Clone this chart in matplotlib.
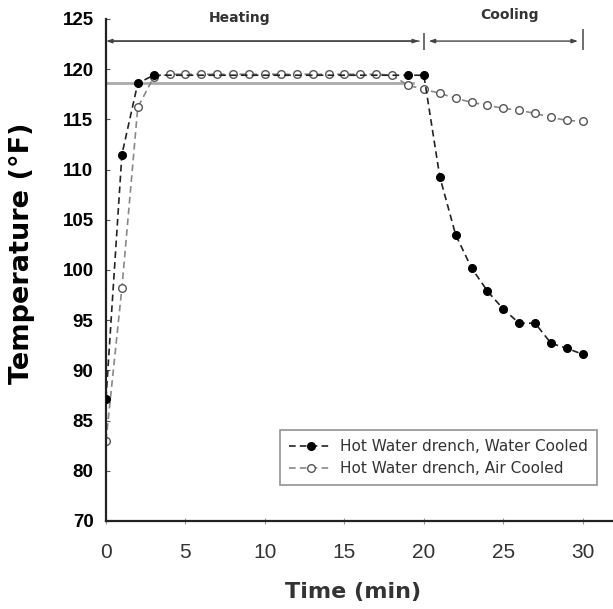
import matplotlib
matplotlib.use("Agg")
import matplotlib.pyplot as plt

# data (time in min, temperature in F)
water_t = [0, 1, 2, 3, 19, 20, 21, 22, 23, 24, 25, 26, 27, 28, 29, 30]
water_temp = [87.2, 111.5, 118.6, 119.4, 119.4, 119.4, 109.3, 103.5, 100.2,
              97.9, 96.1, 94.7, 94.7, 92.7, 92.2, 91.6]

air_t = list(range(0, 31))
air_temp = [83.0, 98.2, 116.2, 119.2, 119.5, 119.5, 119.5, 119.5, 119.5,
            119.5, 119.5, 119.5, 119.5, 119.5, 119.5, 119.5, 119.5, 119.5,
            119.4, 118.4, 118.0, 117.6, 117.1, 116.7, 116.4, 116.1, 115.9,
            115.6, 115.2, 114.9, 114.8]

# faint grey reference line under the heating plateau
ref_t = [0, 19.3]
ref_temp = [118.6, 118.6]

xticks = [0, 5, 10, 15, 20, 25, 30]
yticks = [75, 80, 85, 90, 95, 100, 105, 110, 115, 120, 125]
ytick_labels = ["70", "80", "85", "90", "95", "100", "105", "110", "115", "120", "125"]

phase_edges = [0, 20, 30]
phase_names = ["Heating", "Cooling"]

fig = plt.figure(figsize=(6.13, 6.09), dpi=100)
ax = fig.add_axes([106 / 613, 1 - 521 / 609, 1 - 106 / 613, (521 - 19) / 609])

ax.plot(ref_t, ref_temp, color="#aaaaaa", lw=2, zorder=1)
ax.plot(air_t, air_temp, color="#888888", lw=1.2, ls=(0, (4, 2.5)),
        marker="o", ms=5.5, mfc="white", mec="#555555", mew=1.0, zorder=2,
        label="Hot Water drench, Air Cooled")
ax.plot(water_t, water_temp, color="#222222", lw=1.2, ls=(0, (4, 2.5)),
        marker="o", ms=5.5, mfc="black", mec="black", zorder=3,
        label="Hot Water drench, Water Cooled")

ax.set_xlim(0, 31.9)
ax.set_ylim(75, 125)
ax.set_xticks(xticks)
ax.set_yticks(yticks)
ax.set_yticklabels(ytick_labels)

for s in ["top", "right"]:
    ax.spines[s].set_visible(False)
ax.spines["left"].set_color("#222222")
ax.spines["left"].set_linewidth(1.6)
ax.spines["bottom"].set_color("#222222")
ax.spines["bottom"].set_linewidth(1.6)

ax.tick_params(axis="y", direction="in", length=3, color="#555555", pad=9,
               labelsize=13.5)
ax.tick_params(axis="x", direction="inout", length=5, color="#999999", pad=13,
               labelsize=15, labelcolor="#333333")
for lab in ax.get_yticklabels():
    lab.set_family("Liberation Sans")
    lab.set_fontweight("bold")
for lab in ax.get_xticklabels():
    lab.set_family("Liberation Sans")

fig.text(22 / 613, 1 - 253 / 609, "Temperature (°F)", rotation=90,
         ha="center", va="center", fontsize=19.5, fontweight="bold",
         family="DejaVu Sans")
fig.text(353 / 613, 1 - 592 / 609, "Time (min)", ha="center", va="center",
         fontsize=16, fontweight="bold", color="#333333", family="DejaVu Sans")

# heating / cooling brackets
ybar = 122.8
arrow = "-|>,head_length=0.35,head_width=0.12"
ax.annotate("", xy=(phase_edges[0], ybar), xytext=(phase_edges[1] - 0.3, ybar),
            arrowprops=dict(arrowstyle=arrow, color="#444444", lw=1,
                            shrinkA=0, shrinkB=0))
ax.annotate("", xy=(phase_edges[1] - 0.3, ybar), xytext=(phase_edges[0] + 0.5, ybar),
            arrowprops=dict(arrowstyle=arrow, color="#444444", lw=1,
                            shrinkA=0, shrinkB=0))
ax.annotate("", xy=(phase_edges[1] + 0.3, ybar), xytext=(phase_edges[2] - 0.3, ybar),
            arrowprops=dict(arrowstyle="<|-|>,head_length=0.35,head_width=0.12",
                            color="#444444", lw=1, shrinkA=0, shrinkB=0))
ax.vlines([phase_edges[1], phase_edges[2]], 121.9, [123.6, 124.0],
          color="#555555", lw=1.2, clip_on=False)

ax.text(8.4, 125.1, phase_names[0], ha="center", va="center", fontsize=10,
        color="#333333", fontweight="bold", clip_on=False)
ax.text(25.4, 125.4, phase_names[1], ha="center", va="center", fontsize=10,
        color="#333333", fontweight="bold", clip_on=False)

handles, labels = ax.get_legend_handles_labels()
leg = fig.legend(handles[::-1], labels[::-1], loc="upper left",
                 bbox_to_anchor=(280 / 613, 1 - 430 / 609),
                 fontsize=11, frameon=True, fancybox=False, handlelength=2.8,
                 borderpad=0.6, labelspacing=0.45, handletextpad=0.5,
                 borderaxespad=0)
leg.get_frame().set_edgecolor("#777777")
leg.get_frame().set_linewidth(1.2)
for t in leg.get_texts():
    t.set_color("#333333")

fig.savefig("out.png", dpi=100)
